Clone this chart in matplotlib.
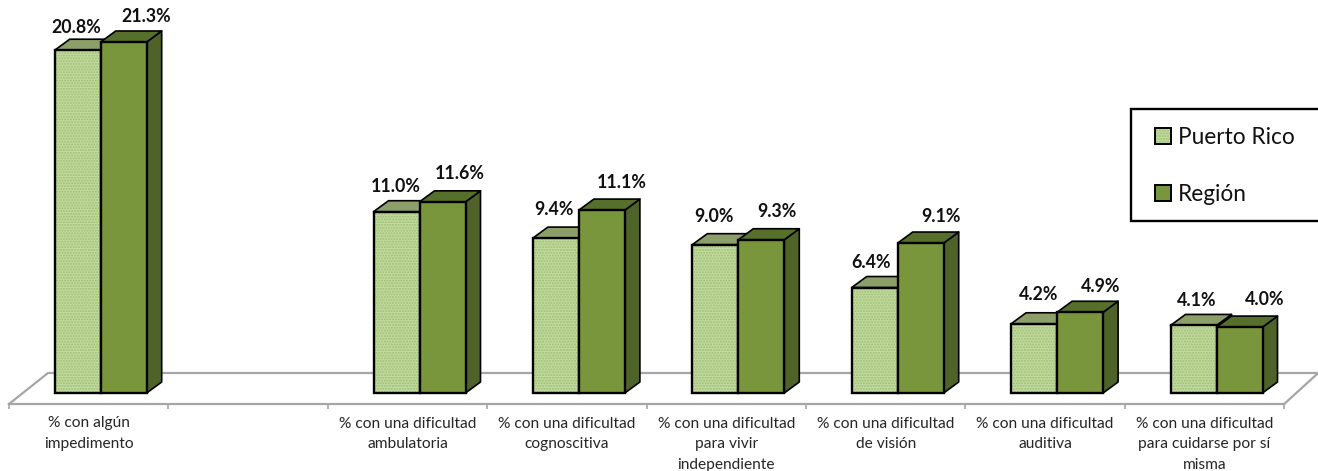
import numpy as np
import matplotlib
matplotlib.use("Agg")
import matplotlib.pyplot as plt
from matplotlib.patches import Patch, Rectangle
from matplotlib.legend_handler import HandlerTuple

plt.rcParams['font.family'] = ['Lato', 'DejaVu Sans']
plt.rcParams['hatch.linewidth'] = 1.0

# datos
categorias = ["% con algún\nimpedimento", "",
              "% con una dificultad\nambulatoria",
              "% con una dificultad\ncognoscitiva",
              "% con una dificultad\npara vivir\nindependiente",
              "% con una dificultad\nde visión",
              "% con una dificultad\nauditiva",
              "% con una dificultad\npara cuidarse por sí\nmisma"]
puerto_rico = [20.8, np.nan, 11.0, 9.4, 9.0, 6.4, 4.2, 4.1]
region = [21.3, np.nan, 11.6, 11.1, 9.3, 9.1, 4.9, 4.0]

# desplazamiento de cada etiqueta respecto al centro/tope del frente (pixeles)
off_pr = [(-1, 23), None, (-1, 25), (-2, 29), (-1, 28), (-4, 25), (4, 29), (3, 25)]
off_reg = [(22, 25), None, (17, 28), (20, 28), (16, 28), (20, 27), (20, 26), (25, 28)]

# colores
claro = "#C2DBA0"
puntos = "#9FBE72"
oscuro = "#7A963C"
lado = "#4F6228"
tapa_osc = "#566F2A"
tapa_cla = "#8C9F68"
gris = "#A6A6A6"

# escala de la figura
px_cat = 159.4
px_val = 16.48
x0_px = 9
base_px = 393
W, H = 1318, 471

def dx(p):
    return p / px_cat

def dy(p):
    return p / px_val

fig = plt.figure(figsize=(W/100, H/100), dpi=100)
ax = fig.add_axes([0, 0, 1, 1])
ax.set_xlim(-0.5 - dx(x0_px), -0.5 + dx(W - x0_px))
ax.set_ylim(-dy(H - base_px), dy(base_px))
ax.patch.set_visible(False)

x = np.arange(len(categorias))
w = dx(46)
shift = dx(12)
prof_x = dx(15)
prof_y = dy(11)

# piso
piso = -dy(11)
fondo = dy(20)
xl, xr = -0.5, len(categorias) - 0.5
ax.plot([xl, xl + dx(39), xr + dx(34)], [piso, fondo, fondo], color=gris, lw=1.6, zorder=1, clip_on=False)
ax.plot([xr, xr + dx(34)], [piso, fondo], color=gris, lw=1.6, zorder=1)

def barra3d(xc, v, cara, tapa, z, tramado):
    izq, der = xc - w/2, xc + w/2
    ax.fill([der, der + prof_x, der + prof_x, der], [0, prof_y, v + prof_y, v],
            facecolor=lado, edgecolor='black', lw=1.2, zorder=z, joinstyle='round')
    ax.fill([izq, izq + prof_x, der + prof_x, der], [v, v + prof_y, v + prof_y, v],
            facecolor=tapa, edgecolor='black', lw=1.2, zorder=z, joinstyle='round')
    ax.bar(xc, v, w, color=cara, zorder=z + 0.1, lw=0)
    if tramado:
        ax.bar(xc, v, w, fill=False, hatch='......', edgecolor=puntos, lw=0, zorder=z + 0.2)
    ax.bar(xc, v, w, fill=False, edgecolor='black', lw=1.7, zorder=z + 0.3)

for i in x:
    if np.isnan(puerto_rico[i]):
        continue
    xa = i + shift - w/2
    xb = i + shift + w/2
    barra3d(xa, puerto_rico[i], claro, tapa_cla, 2 + i, True)
    barra3d(xb, region[i], oscuro, tapa_osc, 2.5 + i, False)
    ax.annotate(f"{puerto_rico[i]:.1f}%", (xa, puerto_rico[i]), xytext=off_pr[i],
                textcoords='offset pixels', ha='center', va='center',
                fontsize=12.8, fontweight='bold', color='#111111', zorder=30)
    ax.annotate(f"{region[i]:.1f}%", (xb, region[i]), xytext=off_reg[i],
                textcoords='offset pixels', ha='center', va='center',
                fontsize=12.8, fontweight='bold', color='#111111', zorder=30)

# ejes
for s in ['top', 'left', 'right']:
    ax.spines[s].set_visible(False)
ax.spines['bottom'].set_position(('data', piso))
ax.spines['bottom'].set_bounds(xl, xr)
ax.spines['bottom'].set_color(gris)
ax.spines['bottom'].set_linewidth(1.6)
ax.set_yticks([])
ax.set_xticks(np.arange(xl, xr + 1))
ax.set_xticklabels([])
ax.set_xticks(x, minor=True)
ax.set_xticklabels(categorias, minor=True, fontsize=11.2, color='#262626', linespacing=1.6)
ax.tick_params(axis='x', which='major', length=3.5, width=1.2, color=gris)
ax.tick_params(axis='x', which='minor', length=0, pad=9)

# leyenda: el recuadro llega hasta el borde derecho
ax.add_patch(Rectangle((1131/W, 1 - 221/H), (W - 1131 + 3)/W, 112/H, transform=ax.transAxes,
                       facecolor='white', edgecolor='black', lw=1.7, zorder=39, clip_on=True))
h1 = (Patch(facecolor=claro), Patch(fill=False, hatch='......', edgecolor=puntos, lw=0),
      Patch(fill=False, edgecolor='black', lw=1.4))
h2 = (Patch(facecolor=oscuro), Patch(fill=False, edgecolor='black', lw=1.4))
leg = ax.legend([h1, h2], ["Puerto Rico", "Región"],
                handler_map={tuple: HandlerTuple(ndivide=1, pad=0)},
                loc='upper left', bbox_to_anchor=(1131/W, 1 - 103/H), bbox_transform=fig.transFigure,
                fontsize=16.3, frameon=False,
                handlelength=0.7, handleheight=0.7, handletextpad=0.32, labelspacing=1.59,
                borderpad=1.05, borderaxespad=0, labelcolor='#111111')
leg.set_zorder(40)

fig.savefig("out.png", dpi=100)
